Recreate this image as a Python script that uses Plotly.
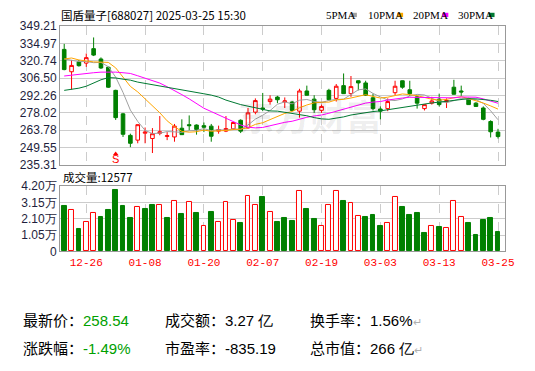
import plotly.graph_objects as go
import pandas as pd

# ---------------- data ----------------
dates = ["12-23","12-24","12-25","12-26","12-27","12-30","12-31",
         "01-02","01-03","01-06","01-07","01-08","01-09","01-10",
         "01-13","01-14","01-15","01-16","01-17","01-20","01-21",
         "01-22","01-23","01-24","01-27","02-05","02-06","02-07",
         "02-10","02-11","02-12","02-13","02-14","02-17","02-18",
         "02-19","02-20","02-21","02-24","02-25","02-26","02-27",
         "02-28","03-03","03-04","03-05","03-06","03-07","03-10",
         "03-11","03-12","03-13","03-14","03-17","03-18","03-19",
         "03-20","03-21","03-24","03-25"]

opens = [330.2, 311.8, 320.0, 318.9, 330.8, 322.3, 315.5, 296.5, 277.2, 259.5,
         255.6, 261.3, 256.9, 261.2, 258.6, 258.2, 265.4, 268.3, 268.0, 267.5,
         267.1, 263.0, 263.0, 264.9, 271.9, 265.7, 278.6, 282.0, 287.3, 291.0,
         287.0, 286.9, 279.4, 296.0, 289.3, 280.1, 296.5, 289.9, 300.4, 293.8,
         304.4, 302.6, 290.4, 281.2, 281.5, 294.6, 304.4, 297.0, 291.2, 281.5,
         286.0, 289.3, 287.3, 299.1, 296.0, 289.3, 286.0, 282.0, 270.9, 262.2]
highs = [334.7, 321.5, 321.5, 326.8, 340.0, 323.6, 316.0, 297.0, 278.0, 260.9,
         268.5, 266.0, 265.5, 275.4, 262.2, 268.9, 272.7, 275.9, 268.5, 270.1,
         268.9, 267.5, 275.4, 270.5, 272.7, 282.0, 289.9, 294.4, 292.5, 292.0,
         290.7, 287.8, 297.8, 300.4, 292.5, 284.8, 297.8, 301.7, 310.4, 308.3,
         304.6, 304.4, 293.8, 283.3, 289.9, 304.4, 304.6, 304.4, 292.0, 284.9,
         291.2, 293.8, 289.9, 305.2, 300.4, 290.4, 286.8, 283.3, 271.9, 264.9]
lows = [313.0, 297.2, 316.0, 315.8, 324.7, 314.1, 298.5, 272.2, 258.2, 249.8,
        253.0, 253.0, 245.0, 259.6, 255.6, 254.3, 260.1, 263.6, 260.1, 262.2,
        254.3, 260.9, 262.2, 264.0, 261.4, 265.0, 276.8, 279.4, 284.8, 286.0,
        282.0, 279.4, 274.1, 292.3, 278.0, 278.0, 287.8, 287.3, 293.5, 291.2,
        296.5, 292.0, 280.0, 272.7, 279.4, 292.5, 297.8, 292.0, 281.5, 280.0,
        284.8, 283.3, 282.0, 293.0, 292.0, 284.5, 283.0, 271.9, 257.8, 256.9]
closes = [313.6, 317.0, 316.8, 323.4, 325.5, 314.9, 299.1, 274.1, 260.4, 253.0,
          268.3, 262.2, 260.9, 262.5, 259.3, 267.1, 260.1, 267.5, 264.3, 266.2,
          258.8, 264.3, 265.1, 270.1, 263.0, 278.0, 288.1, 281.2, 289.3, 288.8,
          287.8, 280.0, 296.0, 292.5, 280.6, 283.3, 288.8, 299.9, 293.8, 299.6,
          302.6, 292.5, 281.5, 279.4, 287.3, 299.9, 299.1, 293.8, 286.0, 284.8,
          287.8, 284.8, 288.1, 293.3, 295.2, 284.8, 283.3, 272.7, 262.45, 258.54]
volumes = [28900, 26800, 14100, 18850, 24400, 22100, 26400, 39300, 28900, 21500,
           28700, 27000, 30100, 29900, 21700, 32400, 24000, 31800, 24600, 16400,
           25200, 18850, 31800, 20100, 18450, 35400, 29900, 35000, 25600, 19050,
           21500, 19700, 39100, 27000, 20900, 16400, 29900, 39100, 32600, 31100,
           22500, 22100, 23400, 16600, 18200, 34800, 28300, 23400, 24600, 11700,
           16400, 16000, 15200, 32400, 21900, 18450, 10450, 20300, 21500, 12577]

# moving-average values before a full window is available
ma5_head = [322.3, 321.5, 320.2, 320.2]
ma10_head = [322.3, 323.1, 321.5, 320.5, 319.9, 319.7, 319.5, 315.0, 307.5]
ma20_head = [308.3, 309.1, 309.9, 310.4, 311.0, 311.5, 311.8, 311.5, 311.0, 310.4,
             308.5, 306.5, 305.0, 302.5, 299.5, 296.5, 293.0, 289.5, 285.5]
ma30_head = [296.5, 297.2, 298.3, 299.9, 302.5, 305.2, 307.0, 306.7, 305.7, 304.9,
             303.3, 302.3, 301.2, 300.2, 299.2, 298.1, 297.0, 295.9, 294.8, 293.7,
             292.6, 291.0, 288.5, 286.5, 284.8, 283.5, 282.0, 280.8, 279.6]

tick_labels = ["12-26", "01-08", "01-20", "02-07", "02-19", "03-03", "03-13", "03-25"]
price_ticks = ["235.31", "249.55", "263.78", "278.02", "292.26", "306.50", "320.74", "334.97", "349.21"]
vol_ticks = [0, 10500, 21000, 31500, 42000]
vol_tick_text = ["0", "1.05万", "2.10万", "3.15万", "4.20万"]
signal_idx = 7
signal_text = "S"

title_text = "国盾量子[688027] 2025-03-25 15:30"
ma_names = ["5PMA", "10PMA", "20PMA", "30PMA"]
ma_colors = ["#a0a0a0", "#ffa500", "#ff00ff", "#007a33"]
vol_label = "成交量:12577"
info_rows = [
    [("最新价：", "258.54", "#00a000"), ("成交额：", "3.27 亿", "#000000"), ("换手率：", "1.56%", "#000000")],
    [("涨跌幅：", "-1.49%", "#00a000"), ("市盈率：", "-835.19", "#000000"), ("总市值：", "266 亿", "#000000")],
]

# ---------------- derived ----------------
x = list(range(len(dates)))
cs = pd.Series(closes)


def ma(n, head):
    r = cs.rolling(n).mean().tolist()
    return head + r[len(head):]


mas = [ma(5, ma5_head), ma(10, ma10_head), ma(20, ma20_head), ma(30, ma30_head)]
tick_pos = [dates.index(t) for t in tick_labels]
price_vals = [float(v) for v in price_ticks]

RED = "#ff0000"
GREEN = "#008000"
vol_up = [closes[i] > (closes[i - 1] if i > 0 else opens[i]) for i in x]
vol_fill = ["#ffffff" if u else GREEN for u in vol_up]
vol_line = [RED if u else GREEN for u in vol_up]

W, H = 535, 371


def px(v):
    return v / W


def py(v):
    return 1 - v / H


fig = go.Figure()

fig.add_trace(go.Candlestick(
    x=x, open=opens, high=highs, low=lows, close=closes,
    increasing=dict(line=dict(color=RED, width=1), fillcolor="#ffffff"),
    decreasing=dict(line=dict(color=GREEN, width=1), fillcolor=GREEN),
    whiskerwidth=0, xaxis="x", yaxis="y", showlegend=False, hoverinfo="skip"))

for vals, col in zip(mas, ma_colors):
    fig.add_trace(go.Scatter(x=x, y=vals, mode="lines",
                             line=dict(color=col, width=1),
                             xaxis="x", yaxis="y", showlegend=False, hoverinfo="skip"))

fig.add_trace(go.Bar(x=x, y=volumes, width=0.66,
                     marker=dict(color=vol_fill, line=dict(color=vol_line, width=1)),
                     xaxis="x2", yaxis="y2", showlegend=False, hoverinfo="skip"))

# signal marker
fig.add_trace(go.Scatter(x=[signal_idx], y=[244.3], mode="markers",
                         marker=dict(symbol="triangle-up", size=5, color=RED),
                         xaxis="x", yaxis="y", showlegend=False, hoverinfo="skip"))

annotations = []
annotations.append(dict(x=signal_idx, y=239.8, xref="x", yref="y", text=signal_text,
                        showarrow=False, font=dict(family="Liberation Sans", size=11, color=RED)))

# watermark
annotations.append(dict(x=px(315), y=py(83), xref="paper", yref="paper", text="<b>东方财富</b>",
                        showarrow=False,
                        font=dict(family="Noto Sans CJK SC", size=36, color="rgba(0,0,0,0.07)")))

# title
annotations.append(dict(x=px(60), y=py(8), xref="paper", yref="paper", text=title_text,
                        xanchor="left", yanchor="middle", showarrow=False,
                        font=dict(family="Noto Sans CJK SC", size=11.5, color="#000000")))

# MA legend
leg_x = [330, 372, 418, 464]
box_x = [357, 404, 450, 497]
shapes = []
for name, col, lx, bx in zip(ma_names, ma_colors, leg_x, box_x):
    annotations.append(dict(x=px(lx), y=py(8), xref="paper", yref="paper", text=name,
                            xanchor="left", yanchor="middle", showarrow=False,
                            font=dict(family="Liberation Serif", size=11, color="#000000")))
    shapes.append(dict(type="rect", xref="paper", yref="paper",
                       x0=px(bx), x1=px(bx + 6), y0=py(10.5), y1=py(6),
                       fillcolor=col, line=dict(width=0)))

# volume label
annotations.append(dict(x=px(62), y=py(177), xref="paper", yref="paper", text=vol_label,
                        xanchor="left", yanchor="middle", showarrow=False,
                        font=dict(family="Noto Sans CJK SC", size=11.5, color="#000000")))

# info rows
col_x = [21, 166, 313]
row_y = [324.5, 353.5]
for r, row in enumerate(info_rows):
    for c, (lab, val, vcol) in enumerate(row):
        txt = (f"<span style='font-family:Noto Sans CJK SC'>{lab}</span>"
               f"<span style='color:{vcol}'>{val}</span>")
        if c == 2:
            txt += "<span style='color:#b0b0b0;font-size:11px'>↵</span>"
        annotations.append(dict(x=px(col_x[c]), y=py(row_y[r]), xref="paper", yref="paper",
                                text=txt, xanchor="left", yanchor="middle", showarrow=False,
                                font=dict(family="Liberation Sans", size=15, color="#000000")))

axis_common = dict(showline=True, mirror=True, linecolor="#999999", linewidth=1,
                   zeroline=False, ticks="")
x_range = [-0.575, 60.0]
fig.update_layout(
    width=W, height=H, autosize=False,
    margin=dict(l=0, r=0, t=0, b=0),
    paper_bgcolor="#ffffff", plot_bgcolor="#ffffff",
    boxgap=0.3,
    bargap=0,
    xaxis=dict(domain=[px(61), px(514)], range=x_range, anchor="y",
               tickvals=tick_pos, showticklabels=False, showgrid=True,
               gridcolor="#cccccc", griddash="dash", gridwidth=1,
               rangeslider=dict(visible=False), **axis_common),
    yaxis=dict(domain=[py(164), py(20)], range=[price_vals[0], price_vals[-1]], anchor="x",
               tickvals=price_vals, ticktext=price_ticks, showgrid=True,
               gridcolor="#cccccc", gridwidth=1,
               tickfont=dict(family="Liberation Sans", size=12, color="#1e1e3c"),
               **axis_common),
    xaxis2=dict(domain=[px(61), px(514)], range=x_range, anchor="y2",
                tickvals=tick_pos, ticktext=tick_labels, showgrid=True,
                gridcolor="#cccccc", griddash="dash", gridwidth=1,
                tickfont=dict(family="Liberation Mono", size=11, color=RED),
                **axis_common),
    yaxis2=dict(domain=[py(254), py(186)], range=[0, 42000], anchor="x2",
                tickvals=vol_ticks, ticktext=vol_tick_text, showgrid=True,
                gridcolor="#cccccc", gridwidth=1,
                tickfont=dict(family="Liberation Sans", size=12, color="#1e1e3c"),
                **axis_common),
    annotations=annotations,
    shapes=shapes,
)

fig.write_html("out.html")
